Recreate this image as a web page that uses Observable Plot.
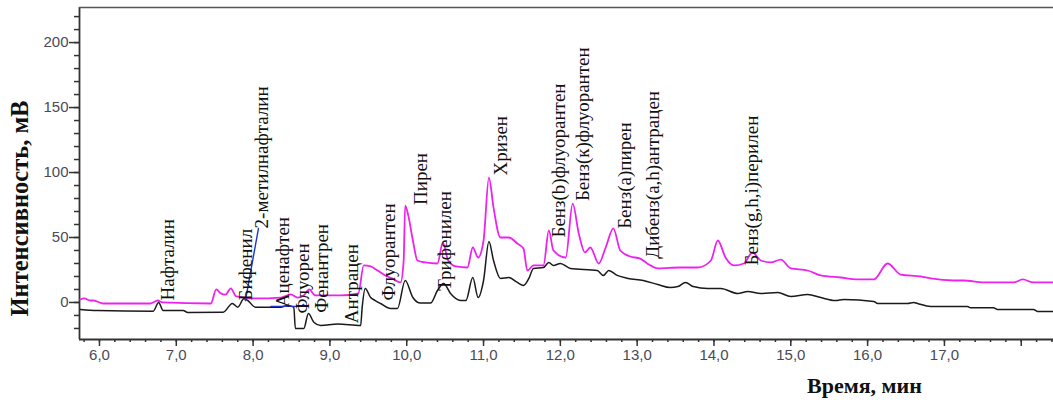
<!DOCTYPE html>
<html>
<head>
<meta charset="utf-8">
<script src="https://cdn.jsdelivr.net/npm/d3@7"></script>
<script src="https://cdn.jsdelivr.net/npm/@observablehq/plot@0.6"></script>
<style>
  html, body { margin: 0; padding: 0; background: #fff; }
  #chart svg { display: block; }
</style>
</head>
<body>
<div id="chart"></div>
<script>
// ---- data ----
const pinkT = [5.75,5.80,5.88,5.92,6.05,6.66,6.76,6.82,7.45,7.52,7.58,7.64,7.71,7.78,7.88,7.93,8.03,8.36,8.49,8.58,8.66,8.73,8.81,9.14,9.37,9.44,9.53,9.62,9.72,9.81,9.92,9.96,9.98,10.02,10.08,10.14,10.24,10.40,10.47,10.54,10.64,10.79,10.86,10.93,11.00,11.07,11.13,11.22,11.33,11.44,11.52,11.57,11.65,11.78,11.85,11.91,12.07,12.16,12.24,12.32,12.39,12.50,12.59,12.69,12.78,12.91,13.04,13.13,13.27,13.56,13.79,13.96,14.05,14.15,14.26,14.39,14.50,14.61,14.74,14.87,15.00,15.22,15.39,15.65,15.87,16.08,16.26,16.43,16.69,16.82,17.12,17.25,17.51,17.90,18.02,18.16,18.42];
const pinkV = [2.3,3.1,1.5,1.5,-0.8,-0.8,1.5,0,-0.8,10,7,6,10.8,4.6,3.8,3.1,3.1,3.8,6.2,3.8,5.4,10,5.4,5.4,6.9,28.5,27.7,24.6,20.8,18.5,15.4,32,74.6,67,47.7,32.3,30.8,30,46,32.3,27.7,26.9,42.3,34.6,47.7,96,73,50,50,45.4,41.5,24.6,28.5,28.5,55.4,40,34.6,76,53,38.5,42.3,30,42.3,57,40,35.4,33.8,30,26.2,26.9,26.9,32.3,47.7,34.6,28.5,30,38.5,32.3,30.8,33,26.2,24.6,20.8,19.2,17.7,17.7,30,21.5,20,18.5,16.9,16.9,15.4,15.4,17.7,15.4,15.4];

const blackT = [5.75,5.97,6.70,6.77,6.83,7.09,7.15,7.61,7.73,7.80,7.88,7.93,8.03,8.36,8.45,8.53,8.55,8.66,8.72,8.79,8.88,9.10,9.40,9.42,9.46,9.53,9.59,9.66,9.79,9.88,9.98,10.08,10.18,10.31,10.40,10.48,10.57,10.70,10.77,10.86,10.93,11.00,11.07,11.13,11.22,11.33,11.44,11.52,11.59,11.65,11.78,11.85,11.91,12.00,12.13,12.48,12.56,12.63,12.74,12.88,13.08,13.27,13.43,13.53,13.63,13.73,13.92,14.09,14.31,14.44,14.61,14.83,15.00,15.22,15.39,15.58,15.69,16.08,16.13,16.52,16.60,16.65,16.82,17.30,17.34,17.64,17.69,18.16,18.21,18.42];
const blackV = [-5.4,-6.2,-6.7,0,-6.2,-6.2,-7.7,-7.5,-0.8,-3.6,2.8,1.5,-3.6,-3.6,-2.3,-3.6,-20,-20,-8.5,-15.2,-17.7,-16.5,-17.7,-3.8,10.8,3.8,1.5,-0.8,-4.6,-4.6,16.9,3.8,-0.5,-0.5,9.2,14.6,6.9,1.5,1.5,19.2,3.8,16.9,46.9,32.3,18.5,19.2,15.4,13.1,18.5,26.2,26.9,30.8,28.5,30,26.2,24.6,20.8,24.6,20.8,18.5,16.9,13.8,11.5,12.3,15.4,12.3,10.8,10.8,6.9,8.5,6.9,7.7,4.6,6.2,3.8,1.5,2.3,0.8,-0.8,-0.8,0,-0.8,-3.1,-3.1,-4.1,-4.1,-5.4,-5.4,-6.9,-6.9];

const blueT   = [7.90, 8.07, 8.23, 8.62, 8.66];
const blueV   = [1.5, 57, -3, -3, -1.5];
const blueSeg = [1, 1, 2, 2, 2];

const labelNames = ["Нафталин","Бифенил","2-метилнафталин","Аценафтен","Флуорен","Фенантрен","Антрацен","Флуорантен","Пирен","Трифенилен","Хризен","Бенз(b)флуорантен","Бенз(к)флуорантен","Бенз(а)пирен","Дибенз(a,h)антрацен","Бенз(g,h,i)перилен"];
const labelT = [6.89,7.91,8.12,8.39,8.65,8.89,9.29,9.77,10.18,10.50,11.23,11.98,12.30,12.84,13.20,14.50];
const labelV = [1.5,1.5,57,-3.6,-8.5,-8,-16,1.5,75,9,97.7,50,78,56.7,33.6,28.5];

const xDomain = [5.74, 18.42];
const yDomain = [-28.5, 227];
const xMajor = [6,7,8,9,10,11,12,13,14,15,16,17,18];
const xMinor = d3.range(5.8, 18.41, 0.2).map(d => +d.toFixed(1));
const yMajor = [0,50,100,150,200];
const yMinor = d3.range(-20, 221, 10);
const xTitle = "Время, мин";
const yTitle = "Интенсивность, мВ";

// ---- tables ----
const pink = pinkT.map((t, i) => ({t, v: pinkV[i]}));
const black = blackT.map((t, i) => ({t, v: blackV[i]}));
const blue = blueT.map((t, i) => ({t, v: blueV[i], s: blueSeg[i]}));
const labels = labelNames.map((name, i) => ({name, t: labelT[i], v: labelV[i]}));

const axisColor = "#333";
const tickText = "#4a4a58";
const serif = "'Liberation Serif', 'Times New Roman', serif";

const chart = Plot.plot({
  width: 1053,
  height: 403,
  marginLeft: 79,
  marginRight: 0,
  marginTop: 7,
  marginBottom: 64,
  x: {domain: xDomain},
  y: {domain: yDomain},
  style: {fontFamily: "'Liberation Sans', Arial, sans-serif", fontSize: "15px", background: "#fff"},
  marks: [
    // minor ticks
    Plot.axisX(xMinor, {anchor: "bottom", tickSize: 3, stroke: axisColor, strokeWidth: 1.5, text: null, label: null}),
    Plot.axisY(yMinor, {anchor: "left", tickSize: 5, stroke: axisColor, strokeWidth: 1.5, text: null, label: null}),
    // major ticks
    Plot.axisX(xMajor, {anchor: "bottom", tickSize: 7, tickPadding: 3, stroke: axisColor, strokeWidth: 1.5,
      fill: tickText, tickFormat: d => d < 18 ? d.toFixed(1).replace(".", ",") : "", label: null}),
    Plot.axisY(yMajor, {anchor: "left", tickSize: 10, tickPadding: 1, stroke: axisColor, strokeWidth: 1.5,
      fill: tickText, tickFormat: d => String(d), label: null}),
    // frame lines
    Plot.ruleX([xDomain[0]], {stroke: axisColor, strokeWidth: 1.8}),
    Plot.ruleY([yDomain[0]], {stroke: axisColor, strokeWidth: 1.8}),
    Plot.ruleY([yDomain[1]], {stroke: "#555", strokeWidth: 1.5}),
    // chromatograms
    Plot.line(pink, {x: "t", y: "v", stroke: "#ee22ee", strokeWidth: 1.8, curve: "monotone-x"}),
    Plot.line(black, {x: "t", y: "v", stroke: "#1a1a1a", strokeWidth: 1.5, curve: "monotone-x"}),
    Plot.line(blue, {x: "t", y: "v", z: "s", stroke: "#2233cc", strokeWidth: 1.4}),
    // peak labels
    Plot.text(labels, {x: "t", y: "v", text: "name", rotate: -90, textAnchor: "start",
      fontFamily: serif, fontSize: 19, fill: "#111"}),
    // axis titles
    Plot.text([xTitle], {frameAnchor: "bottom", textAnchor: "middle", lineAnchor: "middle", dx: 298, dy: 46, text: d => d,
      fontFamily: serif, fontSize: 22, fontWeight: "bold", fill: "#111"}),
    Plot.text([yTitle], {frameAnchor: "left", textAnchor: "middle", lineAnchor: "middle", dx: -59, dy: 35, rotate: -90, text: d => d,
      fontFamily: serif, fontSize: 24.5, fontWeight: "bold", fill: "#111"})
  ]
});
document.getElementById("chart").appendChild(chart);
</script>
</body>
</html>
